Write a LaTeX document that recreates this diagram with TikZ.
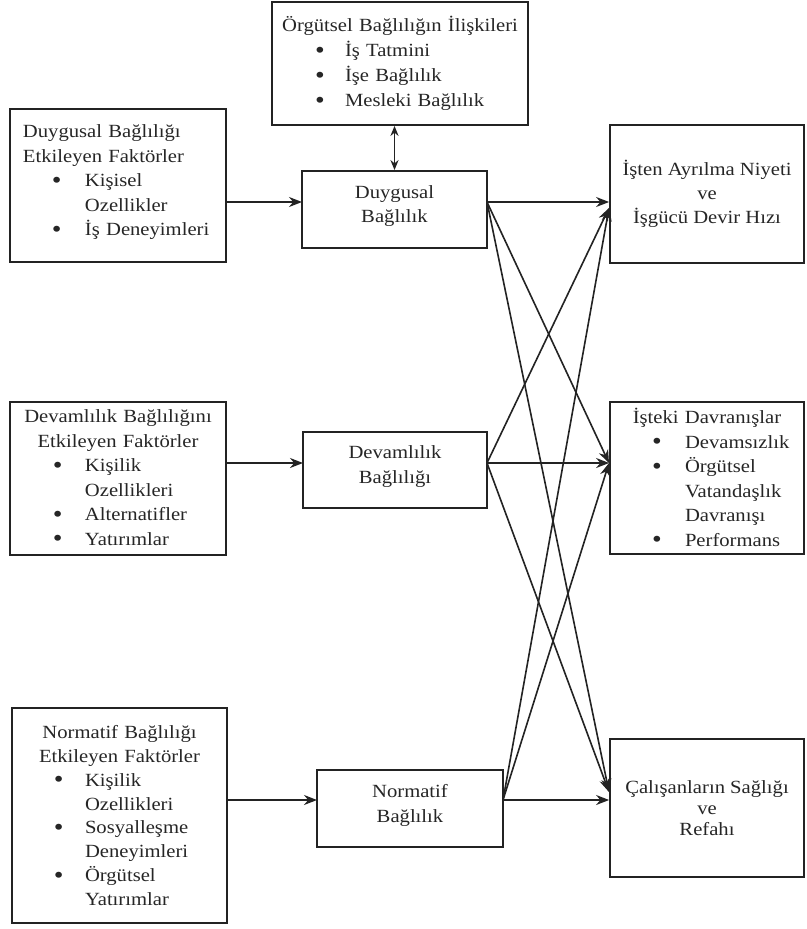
\documentclass[tikz,border=0pt]{standalone}
\usepackage{fontspec}
\setmainfont{Liberation Serif}[FakeStretch=1.11]
\usetikzlibrary{arrows.meta,calc}
\definecolor{lc}{RGB}{35,35,35}
\newcommand\fsz{\fontsize{18.6}{24.5}\selectfont}
\newcommand\tline[2]{\makebox[#1][c]{#2}}
\newcommand\bigbul{\raisebox{-1.5pt}{\fontsize{25}{25}\selectfont\textbullet}}
\newcommand\bl[3]{\hspace*{#1}\makebox[#2][l]{\bigbul}#3}
\newcommand\cl[3]{\hspace*{#1}\hspace*{#2}#3}
\newcommand\upsh{\\[-14pt]\mbox{}}
\begin{document}
\begin{tikzpicture}[x=1pt,y=-1pt,
  bx/.style={draw=lc, line width=1.8pt, inner sep=0pt, fill=white, font=\fsz, align=center, text=black!85},
  lbx/.style={bx, align=left, execute at begin node=\setlength{\parindent}{0pt}},
  arr/.style={draw=lc, line width=1.6pt, -{Stealth[length=13pt,width=10pt]}},
  darr/.style={draw=lc, line width=1.6pt, {Stealth[length=10pt,width=8pt]}-{Stealth[length=10pt,width=8pt]}}
]
\fill[white] (0,0) rectangle (806,929);
\useasboundingbox (0,0) rectangle (806,929);

% top box
\node[lbx, text width=256pt, minimum height=123pt, font=\fontsize{18.6}{25}\selectfont] (top) at (400,63.5)
  {\tline{256pt}{Örgütsel Bağlılığın İlişkileri}\\
   \bl{43pt}{30pt}{İş Tatmini}\\
   \bl{43pt}{30pt}{İşe Bağlılık}\\
   \bl{43pt}{30pt}{Mesleki Bağlılık}};

% left boxes
\node[lbx, text width=216pt, minimum height=153pt] (L1) at (118,185.5)
  {\hspace*{13pt}Duygusal Bağlılığı\\
   \hspace*{13pt}Etkileyen Faktörler\\
   \bl{42pt}{33pt}{Kişisel}\\
   \cl{42pt}{33pt}{Ozellikler}\\
   \bl{42pt}{33pt}{İş Deneyimleri}\upsh};

\node[lbx, text width=216pt, minimum height=153pt] (L2) at (118,478.5)
  {\tline{216pt}{Devamlılık Bağlılığını}\\
   \tline{216pt}{Etkileyen Faktörler}\\
   \bl{43pt}{32pt}{Kişilik}\\
   \cl{43pt}{32pt}{Ozellikleri}\\
   \bl{43pt}{32pt}{Alternatifler}\\
   \bl{43pt}{32pt}{Yatırımlar}};

\node[lbx, text width=215pt, minimum height=215pt, font=\fontsize{18.6}{23.9}\selectfont] (L3) at (119.5,815.5)
  {\tline{215pt}{Normatif Bağlılığı}\\
   \tline{215pt}{Etkileyen Faktörler}\\
   \bl{42pt}{31pt}{Kişilik}\\
   \cl{42pt}{31pt}{Ozellikleri}\\
   \bl{42pt}{31pt}{Sosyalleşme}\\
   \cl{42pt}{31pt}{Deneyimleri}\\
   \bl{42pt}{31pt}{Örgütsel}\\
   \cl{42pt}{31pt}{Yatırımlar}};

% middle boxes
\node[bx, minimum width=185pt, minimum height=77pt] (duy) at (394.5,209.5) {Duygusal\\Bağlılık\upsh};
\node[bx, minimum width=184pt, minimum height=76pt] (dev) at (395,470) {Devamlılık\\Bağlılığı\upsh};
\node[bx, minimum width=186pt, minimum height=77pt] (nor) at (410,808.5) {Normatif\\Bağlılık\upsh};

% right boxes
\node[bx, minimum width=194pt, minimum height=138pt, font=\fontsize{18.6}{24}\selectfont] (R1) at (707,194)
  {İşten Ayrılma Niyeti\\ve\\İşgücü Devir Hızı};
\node[lbx, text width=194pt, minimum height=152pt] (R2) at (707,478)
  {\tline{194pt}{İşteki Davranışlar}\\
   \bl{42pt}{33pt}{Devamsızlık}\\
   \bl{42pt}{33pt}{Örgütsel}\\
   \cl{42pt}{33pt}{Vatandaşlık}\\
   \cl{42pt}{33pt}{Davranışı}\\
   \bl{42pt}{33pt}{Performans}};
\node[bx, minimum width=194pt, minimum height=138pt, font=\fontsize{18.6}{21}\selectfont] (R3) at (707,808)
  {Çalışanların Sağlığı\\ve\\Refahı};

% connection points
\coordinate (dIn) at (302,202);
\coordinate (vIn) at (303,463);
\coordinate (nIn) at (317,800);
\coordinate (dOut) at (487,202);
\coordinate (vOut) at (487,463);
\coordinate (nOut) at (503,800);
\coordinate (r1d) at (609,208);
\coordinate (r2) at (609,463);
\coordinate (r3d) at (609,792);

% connectors
\draw[darr] (top.south -| duy.north) -- (duy.north);
\draw[arr] (L1.east |- dIn) -- (dIn);
\draw[arr] (L2.east |- vIn) -- (vIn);
\draw[arr] (L3.east |- nIn) -- (nIn);

\draw[arr] (dOut) -- (R1.west |- dOut);
\draw[arr] (dOut) -- (r2);
\draw[arr] (dOut) -- (r3d);
\draw[arr] (vOut) -- (r1d);
\draw[arr] (vOut) -- (R2.west |- vOut);
\draw[arr] (vOut) -- (r3d);
\draw[arr] (nOut) -- (r1d);
\draw[arr] (nOut) -- (r2);
\draw[arr] (nOut) -- (R3.west |- nOut);
\end{tikzpicture}
\end{document}
